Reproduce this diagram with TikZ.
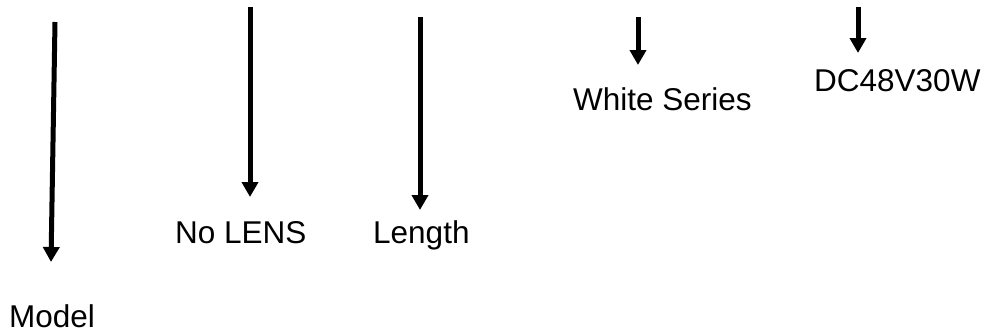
\documentclass[tikz,border=0pt]{standalone}
\usepackage{fontspec}
\setmainfont{Liberation Sans}
\usetikzlibrary{arrows.meta}
\begin{document}
\begin{tikzpicture}[x=1pt,y=-1pt,
  lbl/.style={inner sep=0pt,anchor=base west,font=\fontsize{31.5pt}{36pt}\selectfont},
  arr/.style={line width=5pt,-{Triangle[length=15pt,width=16pt]}}]
\useasboundingbox (0,0) rectangle (989,335);
\node[lbl] (model) at (9,327) {Model};
\node[lbl] (nolens) at (175,243) {No LENS};
\node[lbl] (length) at (373,243) {Length};
\node[lbl] (white) at (573,110) {White Series};
\node[lbl] (dc) at (814,91) {DC48V30W};
\coordinate (a1s) at (55,22);  \coordinate (a1e) at (51,262);
\coordinate (a2s) at (250,7);  \coordinate (a2e) at (250,197);
\coordinate (a3s) at (420,17); \coordinate (a3e) at (420,210);
\coordinate (a4s) at (638,17); \coordinate (a4e) at (638,65);
\coordinate (a5s) at (858,7);  \coordinate (a5e) at (858,53);
\draw[arr] (a1s) -- (a1e);
\draw[arr] (a2s) -- (a2e);
\draw[arr] (a3s) -- (a3e);
\draw[arr] (a4s) -- (a4e);
\draw[arr] (a5s) -- (a5e);
\end{tikzpicture}
\end{document}
